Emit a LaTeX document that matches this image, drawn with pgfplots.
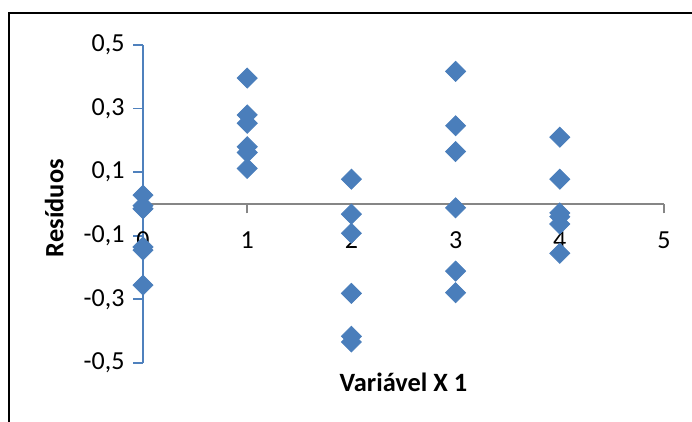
\documentclass[border=0pt]{standalone}
\usepackage{pgfplots}
\pgfplotsset{compat=1.18}
\usepackage{fontspec}
\setmainfont{Carlito}
\definecolor{mk}{RGB}{74,126,187}
\definecolor{yax}{RGB}{79,129,189}
\definecolor{xax}{RGB}{134,134,134}
\begin{document}
\begin{tikzpicture}
\useasboundingbox (0,0) rectangle (346pt,211pt);
\draw[line width=1pt, black] (4.25pt,-2pt) -- (4.25pt,204.25pt) -- (350pt,204.25pt);
\begin{axis}[
  axis on top,
  at={(71.5pt,29.5pt)}, anchor=south west,
  scale only axis, width=260.5pt, height=159pt,
  xmin=0, xmax=5, ymin=-0.5, ymax=0.5,
  axis lines=middle,
  axis line style={draw=none, -},
  hide obscured x ticks=false,
  xtick={0,1,2,3,4,5},
  xticklabels={0,1,2,3,4,5},
  ytick={-0.5,-0.3,-0.1,0.1,0.3,0.5},
  yticklabels={{-0,5},{-0,3},{-0,1},{0,1},{0,3},{0,5}},
  tick align=outside,
  major tick length=4.75pt,
  x tick style={draw=xax, line width=0.9pt},
  y tick style={draw=yax, line width=0.9pt},
  tick label style={font=\fontsize{13}{15}\selectfont, text=black},
  xticklabel style={anchor=north, yshift=-5.5pt},
  yticklabel style={anchor=east, xshift=-1pt},
  every axis x label/.style={at={(axis description cs:0.5,-0.09)}, anchor=base},
  every axis y label/.style={at={(axis description cs:-0.153,0.487)}, anchor=base, rotate=90},
  label style={font=\bfseries\fontsize{13.2}{15}\selectfont},
  xlabel={Variável X 1},
  ylabel={Resíduos},
  clip=false,
]
\addplot[xax, line width=0.9pt, mark=none] coordinates {(0,0) (5,0)};
\addplot[yax, line width=0.9pt, mark=none] coordinates {(0,-0.5) (0,0.5)};
\addplot[only marks, mark=square*, mark size=3.54pt, mark options={rotate=45, fill=mk, draw=mk}]
coordinates {
(0,0.028) (0,-0.005) (0,-0.015) (0,-0.135) (0,-0.145) (0,-0.255)
(1,0.396) (1,0.280) (1,0.254) (1,0.180) (1,0.162) (1,0.112)
(2,0.078) (2,-0.032) (2,-0.092) (2,-0.281) (2,-0.416) (2,-0.434)
(3,0.417) (3,0.246) (3,0.165) (3,-0.012) (3,-0.211) (3,-0.279)
(4,0.210) (4,0.078) (4,-0.028) (4,-0.040) (4,-0.063) (4,-0.155)
};
\end{axis}
\end{tikzpicture}
\end{document}
